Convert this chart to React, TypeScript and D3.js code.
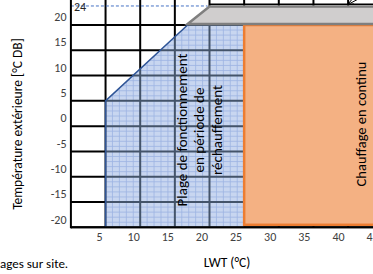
import React from 'react';
import * as d3 from 'd3';

// tick values
const xTicks = [5, 10, 15, 20, 25, 30, 35, 40, 45];
const yTicks = [-20, -15, -10, -5, 0, 5, 10, 15, 20];

// heat-up operating zone (LWT, outdoor temp)
const warmupLwt = [5, 5, 16.84, 25, 25];
const warmupOat = [-20, 5, 20, 20, -20];

// continuous heating zone
const continuousLwt = [25, 60];
const continuousOat = [-20, 20];

// grey band up to the 24 °C limit
const bandLwt = [16.84, 20, 60, 60];
const bandOat = [20, 24, 24, 20];
const limitOat = 24;

const FONT = 'Carlito, Lato, sans-serif';

const App = () => {
  const width = 373;
  const height = 274;

  // Set up the scales
  const x = d3.scaleLinear().domain([0, 50]).range([70.9, 70.9 + 50 * 6.93]);
  const y = d3.scaleLinear().domain([-20, 20]).range([227.3, 25]);
  // labels sit a little left of the grid lines in the original
  const xLabel = d3.scaleLinear().domain([5, 45]).range([99.5, 372.6]);

  const poly = d3
    .line<[number, number]>()
    .x(d => x(d[0]))
    .y(d => y(d[1]));

  const warmupPts = warmupLwt.map((v, i) => [v, warmupOat[i]] as [number, number]);
  const bandPts = bandLwt.map((v, i) => [v, bandOat[i]] as [number, number]);

  const minorX = d3.range(5, 26, 1);
  const minorY = d3.range(-20, 21, 1);

  const top = 0;
  const right = width + 10;

  return (
    <svg
      width={width}
      height={height}
      style={{ position: 'absolute', left: 0, top: 0, background: '#fff' }}
      fontFamily={FONT}
    >
      <defs>
        <clipPath id="warmup-clip">
          <path d={poly(warmupPts) + 'Z'} />
        </clipPath>
        <marker id="arrow" viewBox="0 0 10 10" refX="9" refY="5" markerWidth="6" markerHeight="6" orient="auto">
          <path d="M0,1 L10,5 L0,9" fill="none" stroke="#000" strokeWidth="1.5" />
        </marker>
      </defs>

      {/* black grid */}
      {xTicks.map(v => (
        <line key={'gx' + v} x1={x(v)} x2={x(v)} y1={top} y2={y(-20)} stroke="#000" strokeWidth={2} />
      ))}
      {yTicks.map(v => (
        <line key={'gy' + v} x1={x(0)} x2={right} y1={y(v)} y2={y(v)} stroke="#000" strokeWidth={2} />
      ))}
      <line x1={x(20)} x2={right} y1={y(limitOat) - 0.5} y2={y(limitOat) - 0.5} stroke="#000" strokeWidth={1.5} />

      {/* warm-up zone */}
      <path d={poly(warmupPts) + 'Z'} fill="#c8d6f0" />
      <g clipPath="url(#warmup-clip)">
        {minorX.map(v => (
          <line key={'mx' + v} x1={x(v)} x2={x(v)} y1={y(20)} y2={y(-20)} stroke="#9db4e2" strokeWidth={0.8} />
        ))}
        {minorY.map(v => (
          <line key={'my' + v} x1={x(5)} x2={x(25)} y1={y(v)} y2={y(v)} stroke="#9db4e2" strokeWidth={0.8} />
        ))}
        {xTicks.filter(v => v <= 25).map(v => (
          <line key={'Mx' + v} x1={x(v)} x2={x(v)} y1={y(20)} y2={y(-20)} stroke="#44546a" strokeWidth={2} />
        ))}
        {yTicks.map(v => (
          <line key={'My' + v} x1={x(5)} x2={x(25)} y1={y(v)} y2={y(v)} stroke="#44546a" strokeWidth={2} />
        ))}
      </g>
      <path d={poly(warmupPts.slice(0, 3))!} fill="none" stroke="#2f5597" strokeWidth={1.5} />

      {/* continuous heating zone */}
      <rect
        x={x(continuousLwt[0])}
        y={y(continuousOat[1])}
        width={x(continuousLwt[1]) - x(continuousLwt[0])}
        height={y(continuousOat[0]) - y(continuousOat[1]) - 2.5}
        fill="#f4b183"
        stroke="#ed7d31"
        strokeWidth={2.5}
      />

      {/* grey band */}
      <path
        d={d3.line().x(d => d[0]).y(d => d[1])([
          [x(bandPts[0][0]), y(bandPts[0][1]) - 1],
          [x(bandPts[1][0]), y(bandPts[1][1]) + 1.8],
          [x(bandPts[2][0]), y(bandPts[2][1]) + 1.8],
          [x(bandPts[3][0]), y(bandPts[3][1]) - 1],
        ]) + 'Z'}
        fill="#d0cece"
        stroke="#7f7f7f"
        strokeWidth={2.5}
      />

      {/* 24 limit */}
      <line
        x1={x(0)}
        x2={x(20) - 2}
        y1={y(limitOat) + 1.2}
        y2={y(limitOat) + 1.2}
        stroke="#4472c4"
        strokeWidth={1}
        strokeDasharray="3,2"
      />
      <text x={x(0) + 3} y={10.5} fontSize={12} fill="#262626">
        {limitOat}
      </text>

      {/* axes */}
      <line x1={x(0)} x2={x(0)} y1={top} y2={y(-20) + 1} stroke="#000" strokeWidth={2} />
      <line x1={x(0)} x2={right} y1={y(-20)} y2={y(-20)} stroke="#000" strokeWidth={2} />

      {yTicks.map(v => (
        <text key={'ty' + v} x={66.5} y={y(v) - 8} dy="0.35em" textAnchor="end" fontSize={12} fill="#404040">
          {v}
        </text>
      ))}
      {xTicks.map(v => (
        <text key={'tx' + v} x={xLabel(v)} y={241} textAnchor="middle" fontSize={12} fill="#404040">
          {v}
        </text>
      ))}

      {/* zone labels */}
      <g fontSize={15} fill="#000" textAnchor="middle">
        <text transform={`translate(186.5,130) rotate(-90)`}>Plage de fonctionnement</text>
        <text transform={`translate(204,130) rotate(-90)`}>en période de</text>
        <text transform={`translate(221.5,130) rotate(-90)`}>réchauffement</text>
        <text transform={`translate(366,124) rotate(-90)`} fontSize={14.5}>Chauffage en continu</text>
      </g>

      {/* axis titles */}
      <text transform={`translate(22,124) rotate(-90)`} textAnchor="middle" fontSize={13.5} fill="#000">
        Température extérieure [°C DB]
      </text>
      <text x={227} y={266.5} textAnchor="middle" fontSize={13.5} fill="#000">
        LWT (°C)
      </text>
      <text x={0} y={268} fontSize={13} fill="#000">
        ages sur site.
      </text>

      {/* callout arrow */}
      <line x1={362} y1={-3} x2={348} y2={4.5} stroke="#000" strokeWidth={1} markerEnd="url(#arrow)" />
    </svg>
  );
};

export default App;
